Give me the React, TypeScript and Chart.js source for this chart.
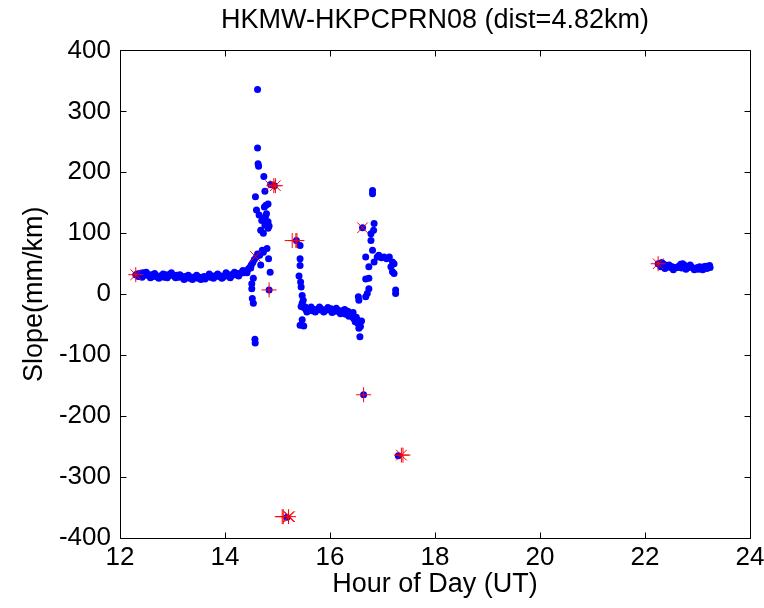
import React, { useEffect, useRef } from "react";
import { Chart, registerables } from "chart.js";

Chart.register(...registerables);

// ---- Data (hour of day UT, slope mm/km) ----
const morningHours = [12.33, 12.37, 12.40, 12.44, 12.48, 12.52, 12.56, 12.60, 12.64, 12.68, 12.72, 12.76, 12.80, 12.84, 12.88, 12.92, 12.96, 13.00, 13.04, 13.08, 13.12, 13.16, 13.20, 13.24, 13.28, 13.32, 13.36, 13.40, 13.44, 13.48, 13.52, 13.56, 13.60, 13.64, 13.68, 13.72, 13.76, 13.80, 13.84, 13.88, 13.92, 13.96, 14.00, 14.04, 14.08, 14.12, 14.16, 14.20, 14.24, 14.28, 14.32, 14.36, 14.40, 14.44, 14.47, 14.50, 14.53, 14.56];
const morningSlope = [33, 34, 32, 35, 31, 33, 30, 32, 29, 31, 28, 30, 30, 28, 32, 30, 33, 31, 29, 31, 28, 30, 27, 29, 28, 26, 28, 27, 29, 26, 28, 27, 29, 28, 30, 28, 30, 29, 31, 29, 30, 28, 31, 30, 32, 30, 33, 32, 34, 33, 36, 35, 38, 41, 44, 48, 52, 57];
const morningHoursB = [12.35, 12.42, 12.50, 12.58, 12.66, 12.74, 12.82, 12.90, 12.98, 13.06, 13.14, 13.22, 13.30, 13.38, 13.46, 13.54, 13.62, 13.70, 13.78, 13.86, 13.94, 14.02, 14.10, 14.18, 14.26, 14.34, 14.42, 14.49];
const morningSlopeB = [29, 28, 36, 27, 34, 26, 33, 27, 35, 27, 32, 24, 31, 24, 31, 24, 25, 33, 26, 33, 26, 35, 27, 36, 30, 39, 35, 43];

const spikeHours = [14.62, 14.62, 14.63, 14.64, 14.74, 14.87, 14.76, 14.58, 14.82, 14.75, 14.60, 14.65, 14.79, 14.77, 14.70, 14.82, 14.76, 14.68, 14.82, 14.73, 14.80, 14.73, 14.66, 14.60, 14.83, 14.68, 14.86, 14.54, 14.51, 14.51, 14.52, 14.54, 14.84, 14.57, 14.575, 14.94, 14.71, 14.62, 14.78, 14.84];
const spikeSlope = [336, 240, 214, 210, 193, 180, 169, 160, 148, 143, 138, 130, 132, 127, 121, 119, 113, 105, 108, 100, 75, 69, 64, 61, 58, 48, 36, 26, 17, 9, -7, -15, 7, -74, -80, 178, 72, 66, 146, 112];

const dropHours = [15.36, 15.43, 15.43, 15.43, 15.41, 15.44, 15.45, 15.47, 15.47, 15.49, 15.45, 15.53, 15.47, 15.43, 15.50];
const dropSlope = [88, 80, 58, 47, 30, 20, 12, -2, -15, -10, -20, -21, -42, -51, -52];

const middayHours = [15.50, 15.54, 15.58, 15.62, 15.66, 15.70, 15.74, 15.78, 15.82, 15.86, 15.90, 15.94, 15.98, 16.02, 16.06, 16.10, 16.14, 16.18, 16.22, 16.26, 16.30, 16.34, 16.38, 16.42, 16.45, 16.48, 16.50, 16.53, 16.55, 16.58, 16.57];
const middaySlope = [-22, -25, -26, -24, -27, -25, -26, -24, -26, -25, -27, -25, -26, -24, -27, -28, -26, -29, -27, -30, -33, -28, -31, -36, -40, -45, -38, -48, -56, -53, -70];
const middayHoursB = [15.56, 15.64, 15.72, 15.80, 15.88, 15.96, 16.04, 16.12, 16.20, 16.28, 16.36, 16.44, 16.52, 16.60];
const middaySlopeB = [-29, -21, -29, -21, -29, -22, -30, -23, -32, -25, -36, -30, -42, -44];

const riseHours = [16.54, 16.55, 16.68, 16.71, 16.74, 16.68, 16.74, 16.74, 16.68, 16.81, 16.90, 16.84, 16.93, 17.03, 17.13, 17.19, 17.22, 17.16, 17.19, 17.22, 17.25, 17.25, 16.78, 16.78, 16.83, 16.84, 16.81, 16.81, 16.62, 16.98, 17.08];
const riseSlope = [-4, -10, -4, 1, 9, 25, 26, 45, 61, 72, 61, 53, 64, 61, 61, 53, 50, 45, 37, 34, 7, 1, 88, 99, 105, 116, 170, 165, 109, 60, 58];

const outlierHours = [15.18, 16.64, 17.30, 12.30];
const outlierSlope = [-366, -165, -265, 32];

const eveningHours = [22.25, 22.28, 22.32, 22.36, 22.40, 22.44, 22.48, 22.52, 22.56, 22.60, 22.64, 22.68, 22.72, 22.76, 22.80, 22.84, 22.88, 22.92, 22.96, 23.00, 23.04, 23.08, 23.12, 23.16, 23.20, 23.24];
const eveningSlope = [50, 50, 52, 49, 47, 46, 44, 45, 43, 44, 46, 49, 50, 47, 45, 44, 45, 43, 42, 44, 45, 43, 45, 46, 45, 44];
const eveningHoursB = [22.30, 22.38, 22.46, 22.54, 22.62, 22.70, 22.78, 22.86, 22.94, 23.02, 23.10, 23.18, 23.23];
const eveningSlopeB = [45, 42, 48, 40, 44, 43, 41, 48, 40, 41, 40, 42, 47];

// red outlier flags
const plusHours = [14.84, 14.93, 15.28, 15.35, 15.37, 16.64, 17.39, 15.09, 15.11];
const plusSlope = [7, 178, 88, 88, 88, -165, -264, -365, -365];
const crossHours = [14.58, 14.87, 16.62, 15.23];
const crossSlope = [62, 178, 109, -365];
const starHours = [12.30, 14.96, 17.36, 15.21, 22.25];
const starSlope = [32, 178, -264, -365, 50];

const xTickValues = [12, 14, 16, 18, 20, 22, 24];
const yTickValues = [-400, -300, -200, -100, 0, 100, 200, 300, 400];

const TITLE = "HKMW-HKPCPRN08 (dist=4.82km)";
const X_LABEL = "Hour of Day (UT)";
const Y_LABEL = "Slope(mm/km)";

const FONT = "'Liberation Sans', Arial, Helvetica, sans-serif";

function pairs(xs: number[], ys: number[]) {
  return xs.map((x, i) => ({ x, y: ys[i] }));
}

const boxPlugin = {
  id: "matlabBox",
  afterDraw(chart: any) {
    const { ctx, chartArea } = chart;
    const { left, right, top, bottom } = chartArea;
    const xs = chart.scales.x;
    const ys = chart.scales.y;
    const L = Math.round(left) + 0.5;
    const R = Math.round(right) + 0.5;
    const T = Math.round(top) + 0.5;
    const B = Math.round(bottom) + 0.5;
    const len = 6;
    ctx.save();
    ctx.strokeStyle = "#000";
    ctx.lineWidth = 1;
    ctx.beginPath();
    ctx.moveTo(L, T);
    ctx.lineTo(R, T);
    ctx.lineTo(R, B);
    ctx.lineTo(L, B);
    ctx.closePath();
    xs.ticks.forEach((t: any) => {
      const px = Math.round(xs.getPixelForValue(t.value)) + 0.5;
      ctx.moveTo(px, B);
      ctx.lineTo(px, B - len);
      ctx.moveTo(px, T);
      ctx.lineTo(px, T + len);
    });
    ys.ticks.forEach((t: any) => {
      const py = Math.round(ys.getPixelForValue(t.value)) + 0.5;
      ctx.moveTo(L, py);
      ctx.lineTo(L + len, py);
      ctx.moveTo(R, py);
      ctx.lineTo(R - len, py);
    });
    ctx.stroke();
    ctx.restore();
  },
};

export default function App() {
  const ref = useRef<HTMLCanvasElement | null>(null);

  useEffect(() => {
    if (!ref.current) return;
    const blue = {
      label: "slope",
      data: [
        ...pairs(morningHours, morningSlope),
        ...pairs(morningHoursB, morningSlopeB),
        ...pairs(spikeHours, spikeSlope),
        ...pairs(dropHours, dropSlope),
        ...pairs(middayHours, middaySlope),
        ...pairs(middayHoursB, middaySlopeB),
        ...pairs(riseHours, riseSlope),
        ...pairs(outlierHours, outlierSlope),
        ...pairs(eveningHours, eveningSlope),
        ...pairs(eveningHoursB, eveningSlopeB),
      ],
      backgroundColor: "#0000FF",
      borderColor: "#0000FF",
      borderWidth: 0,
      pointRadius: 3.5,
      pointHoverRadius: 3.5,
      pointStyle: "circle",
      order: 10,
    };
    const red = (xs: number[], ys: number[], style: string) => ({
      label: style,
      data: pairs(xs, ys),
      pointStyle: style,
      pointRadius: 7.5,
      pointHoverRadius: 7.5,
      borderColor: "#FF0000",
      backgroundColor: "#FF0000",
      borderWidth: 1,
      order: 1,
    });
    const chart = new Chart(ref.current, {
      type: "scatter",
      data: {
        datasets: [
          blue as any,
          red(plusHours, plusSlope, "cross") as any,
          red(crossHours, crossSlope, "crossRot") as any,
          red(starHours, starSlope, "star") as any,
        ],
      },
      plugins: [boxPlugin],
      options: {
        animation: false,
        responsive: false,
        devicePixelRatio: 1,
        layout: { padding: { left: 0, right: 14, top: 0, bottom: 0 } },
        plugins: {
          legend: { display: false },
          tooltip: { enabled: false },
          title: {
            display: true,
            text: TITLE,
            fullSize: false,
            color: "#000",
            font: { family: FONT, size: 27, weight: "normal" as any, lineHeight: 1.2 },
            padding: { top: 4, bottom: 14 },
          },
        },
        scales: {
          x: {
            type: "linear",
            min: 12,
            max: 24,
            afterBuildTicks: (s: any) => {
              s.ticks = xTickValues.map((v) => ({ value: v }));
            },
            afterFit: (s: any) => {
              s.height = 70;
              s.paddingRight = 0;
              s.paddingLeft = 0;
            },
            grid: { display: false, drawTicks: false },
            border: { display: false },
            ticks: {
              color: "#000",
              padding: 4,
              maxRotation: 0,
              autoSkip: false,
              font: { family: FONT, size: 26 },
            },
            title: {
              display: true,
              text: X_LABEL,
              color: "#000",
              font: { family: FONT, size: 27 },
              padding: { top: 0, bottom: 7 },
            },
          },
          y: {
            type: "linear",
            min: -400,
            max: 400,
            afterBuildTicks: (s: any) => {
              s.ticks = yTickValues.map((v) => ({ value: v }));
            },
            afterFit: (s: any) => {
              s.width = 120;
              s.paddingTop = 0;
              s.paddingBottom = 0;
            },
            grid: { display: false, drawTicks: false },
            border: { display: false },
            ticks: {
              color: "#000",
              padding: 9,
              autoSkip: false,
              font: { family: FONT, size: 26 },
            },
            title: {
              display: true,
              text: Y_LABEL,
              color: "#000",
              font: { family: FONT, size: 27 },
              padding: { top: 18, bottom: 0 },
            },
          },
        },
      },
    });
    return () => chart.destroy();
  }, []);

  return (
    <div style={{ position: "fixed", left: 0, top: 0, width: 764, height: 608, background: "#fff" }}>
      <canvas ref={ref} width={764} height={608} style={{ width: 764, height: 608, display: "block" }} />
    </div>
  );
}
